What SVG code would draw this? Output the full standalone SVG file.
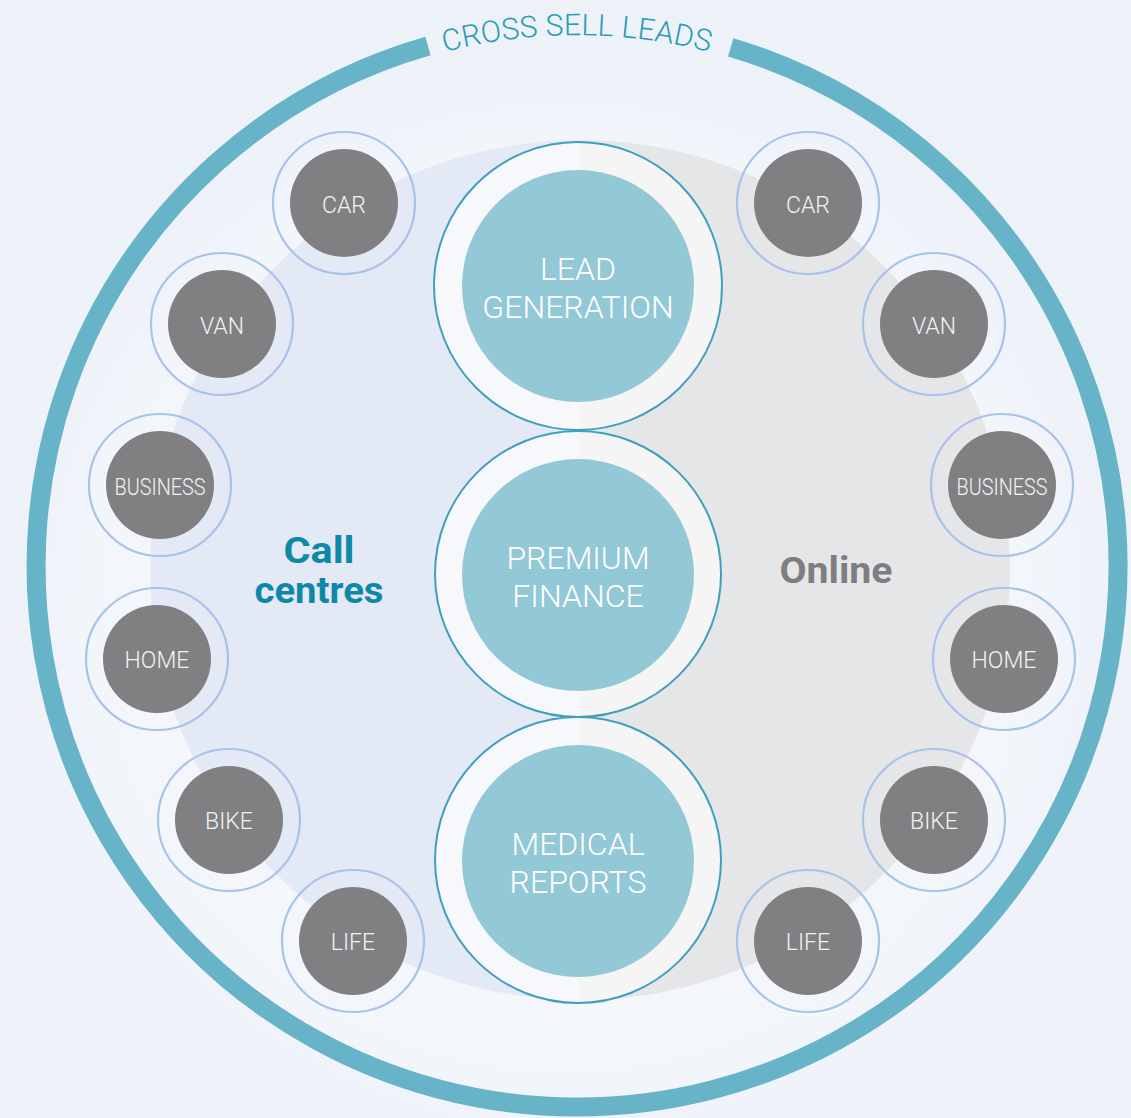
<svg xmlns="http://www.w3.org/2000/svg" width="1131" height="1118" viewBox="0 0 1131 1118">
  <defs>
    <radialGradient id="bgGlow" cx="0.5" cy="0.55" r="0.6">
      <stop offset="0" stop-color="#ffffff" stop-opacity="0.9"/>
      <stop offset="0.7" stop-color="#f6f8fc" stop-opacity="0.6"/>
      <stop offset="1" stop-color="#e9eef7" stop-opacity="0"/>
    </radialGradient>
    <linearGradient id="hubFill" x1="0" y1="0" x2="1" y2="0">
      <stop offset="0.5" stop-color="#f7f8fc"/>
      <stop offset="0.5" stop-color="#f5f5f6"/>
    </linearGradient>
    <path id="labelArc" d="M46,566 A531,531 0 0 1 1108,566"/>
    <style>
      .ring { fill: none; stroke: #67b4c9; stroke-width: 19; }
      .arcLabel { font-family: Roboto, "Liberation Sans", sans-serif; font-weight: 300; font-size: 30px; fill: #2a9bb8; letter-spacing: 0.2px; }
      .hubOuter { fill: url(#hubFill); stroke: #3f9fbd; stroke-width: 2; }
      .hubInner { fill: #93c8d7; }
      .hubText { font-family: Roboto, "Liberation Sans", sans-serif; font-weight: 300; font-size: 32px; fill: #ffffff; text-anchor: middle; }
      .prodRing { fill: none; stroke: #a8c3e9; stroke-width: 2.2; }
      .prodDisk { fill: #808083; }
      .prodText { font-family: Roboto, "Liberation Sans", sans-serif; font-weight: 300; font-size: 23px; fill: #f2f2f2; text-anchor: middle; }
      .channel { font-family: Roboto, "Liberation Sans", sans-serif; font-weight: 700; font-size: 36px; text-anchor: middle; }
    </style>
  </defs>

  <!-- backdrop -->
  <rect width="1131" height="1118" fill="#edf1f8"/>
  <rect width="1131" height="1118" fill="url(#bgGlow)"/>

  <!-- outer ring with a gap for its label -->
  <g id="cross-sell-ring">
    <path class="ring" d="M730.7,47.3 A541,541 0 1 1 427.9,46.0"/>
    <text class="arcLabel"><textPath href="#labelArc" startOffset="50%" text-anchor="middle">CROSS SELL LEADS</textPath></text>
  </g>

  <!-- channel backdrop: call centres (left) and online (right) -->
  <g id="channels">
    <path d="M580,140 A430,430 0 0 0 580,1000 Z" fill="#e3e9f5"/>
    <path d="M580,140 A430,430 0 0 1 580,1000 Z" fill="#e5e6e8"/>
  </g>

  <g id="label-call-centres">
    <text class="channel" x="319" y="563" fill="#0e88a8" textLength="71" lengthAdjust="spacingAndGlyphs">Call</text>
    <text class="channel" x="319" y="603" fill="#0e88a8" textLength="129" lengthAdjust="spacingAndGlyphs">centres</text>
  </g>
  <g id="label-online">
    <text class="channel" x="836" y="583" fill="#7e7e80" textLength="113" lengthAdjust="spacingAndGlyphs">Online</text>
  </g>

  <!-- central services -->
  <g id="lead-generation">
    <circle class="hubOuter" cx="578" cy="286" r="144"/>
    <circle class="hubInner" cx="578" cy="286" r="116"/>
    <text class="hubText"><tspan x="578" y="280">LEAD</tspan><tspan x="578" y="318">GENERATION</tspan></text>
  </g>
  <g id="premium-finance">
    <circle class="hubOuter" cx="578" cy="574" r="143"/>
    <circle class="hubInner" cx="578" cy="575" r="116"/>
    <text class="hubText"><tspan x="578" y="569">PREMIUM</tspan><tspan x="578" y="607">FINANCE</tspan></text>
  </g>
  <g id="medical-reports">
    <circle class="hubOuter" cx="578" cy="860" r="143"/>
    <circle class="hubInner" cx="578" cy="861" r="116"/>
    <text class="hubText"><tspan x="578" y="855">MEDICAL</tspan><tspan x="578" y="893">REPORTS</tspan></text>
  </g>

  <!-- call centre products -->
  <g id="cc-car">
    <circle class="prodRing" cx="344" cy="203" r="71"/>
    <circle class="prodDisk" cx="344" cy="203" r="54"/>
    <text class="prodText" x="344" y="213">CAR</text>
  </g>
  <g id="cc-van">
    <circle class="prodRing" cx="222" cy="324" r="71"/>
    <circle class="prodDisk" cx="222" cy="324" r="54"/>
    <text class="prodText" x="222" y="334">VAN</text>
  </g>
  <g id="cc-business">
    <circle class="prodRing" cx="160" cy="485" r="71"/>
    <circle class="prodDisk" cx="160" cy="485" r="54"/>
    <text class="prodText" x="160" y="495" textLength="91" lengthAdjust="spacingAndGlyphs">BUSINESS</text>
  </g>
  <g id="cc-home">
    <circle class="prodRing" cx="157" cy="659" r="71"/>
    <circle class="prodDisk" cx="157" cy="659" r="54"/>
    <text class="prodText" x="157" y="668">HOME</text>
  </g>
  <g id="cc-bike">
    <circle class="prodRing" cx="229" cy="820" r="71"/>
    <circle class="prodDisk" cx="229" cy="820" r="54"/>
    <text class="prodText" x="229" y="829">BIKE</text>
  </g>
  <g id="cc-life">
    <circle class="prodRing" cx="353" cy="941" r="71"/>
    <circle class="prodDisk" cx="353" cy="941" r="54"/>
    <text class="prodText" x="353" y="950">LIFE</text>
  </g>

  <!-- online products -->
  <g id="on-car">
    <circle class="prodRing" cx="808" cy="203" r="71"/>
    <circle class="prodDisk" cx="808" cy="203" r="54"/>
    <text class="prodText" x="808" y="213">CAR</text>
  </g>
  <g id="on-van">
    <circle class="prodRing" cx="934" cy="324" r="71"/>
    <circle class="prodDisk" cx="934" cy="324" r="54"/>
    <text class="prodText" x="934" y="334">VAN</text>
  </g>
  <g id="on-business">
    <circle class="prodRing" cx="1002" cy="485" r="71"/>
    <circle class="prodDisk" cx="1002" cy="485" r="54"/>
    <text class="prodText" x="1002" y="495" textLength="91" lengthAdjust="spacingAndGlyphs">BUSINESS</text>
  </g>
  <g id="on-home">
    <circle class="prodRing" cx="1004" cy="659" r="71"/>
    <circle class="prodDisk" cx="1004" cy="659" r="54"/>
    <text class="prodText" x="1004" y="668">HOME</text>
  </g>
  <g id="on-bike">
    <circle class="prodRing" cx="934" cy="820" r="71"/>
    <circle class="prodDisk" cx="934" cy="820" r="54"/>
    <text class="prodText" x="934" y="829">BIKE</text>
  </g>
  <g id="on-life">
    <circle class="prodRing" cx="808" cy="941" r="71"/>
    <circle class="prodDisk" cx="808" cy="941" r="54"/>
    <text class="prodText" x="808" y="950">LIFE</text>
  </g>
</svg>
